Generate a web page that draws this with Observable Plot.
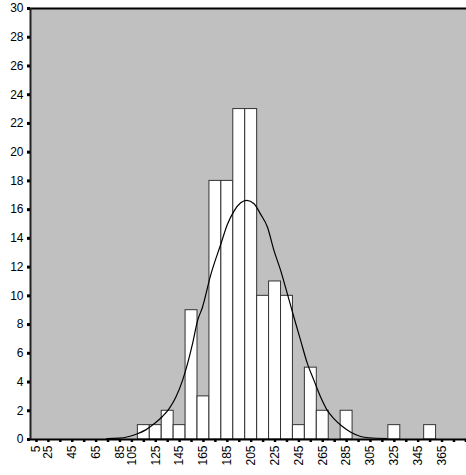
<!DOCTYPE html>
<html><head><meta charset="utf-8">
<script src="https://cdn.jsdelivr.net/npm/d3@7"></script>
<script src="https://cdn.jsdelivr.net/npm/@observablehq/plot@0.6"></script>
<style>html,body{margin:0;padding:0;background:#fff;} svg{display:block;}</style>
</head><body><div id="chart"></div>
<script>
// Category (bin) index along the x axis and the count in each bin
const binIndex = [9, 10, 11, 12, 13, 14, 15, 16, 17, 18, 19, 20, 21, 22, 23, 24, 26, 30, 33];
const binCount = [1, 1, 2, 1, 9, 3, 18, 18, 23, 23, 10, 11, 10, 1, 5, 2, 2, 1, 1];

// Tick labels as printed under the categories
const tickPositions = [0, 1, 3, 5, 7, 8, 10, 12, 14, 16, 18, 20, 22, 24, 26, 28, 30, 32, 34];
const tickLabels = ["5", "25", "45", "65", "85", "105", "125", "145", "165", "185", "205", "225", "245", "265", "285", "305", "325", "345", "365"];
const allTicks = d3.range(0, 37);
const yTicks = [0, 2, 4, 6, 8, 10, 12, 14, 16, 18, 20, 22, 24, 26, 28, 30];

// Fitted curve
const curveX = [5.89, 6.92, 7.76, 8.47, 9.16, 9.86, 10.56, 11.11, 11.68, 12.24, 12.66, 13.08, 13.5, 13.91, 14.61, 15.45, 16.01, 16.56, 17.12, 17.63, 18.24, 18.8, 19.36, 19.92, 20.48, 21.04, 21.59, 22.15, 22.72, 23.27, 23.83, 24.39, 24.95, 25.65, 26.35, 27.18, 27.88, 29.36];
const curveY = [0.07, 0.09, 0.21, 0.4, 0.67, 1.09, 1.6, 2.13, 2.94, 4.1, 5.26, 6.65, 8.26, 9.19, 11.46, 13.59, 14.98, 15.9, 16.48, 16.65, 16.41, 15.67, 14.79, 13.13, 11.74, 10.12, 8.49, 6.88, 5.26, 4.1, 2.94, 2.01, 1.44, 0.9, 0.51, 0.21, 0.12, 0.07];

const bars = binIndex.map((k, i) => ({k, n: binCount[i]}));
const curve = curveX.map((x, i) => ({x, y: curveY[i]}));

const chart = Plot.plot({
  width: 466,
  height: 475,
  marginLeft: 30,
  marginRight: 0,
  marginTop: 8,
  marginBottom: 36,
  style: {fontFamily: "'Liberation Sans', Arial, sans-serif", fontSize: "12px", background: "#fff", color: "#000"},
  x: {type: "linear", domain: [-0.5, 36.05]},
  y: {domain: [0, 30]},
  marks: [
    Plot.frame({fill: "#c0c0c0", stroke: "none"}),
    Plot.rectY(bars, {x1: d => d.k - 0.5, x2: d => d.k + 0.5, y1: 0, y2: "n", fill: "#fff", stroke: "#333", strokeWidth: 1}),
    Plot.line(curve, {x: "x", y: "y", stroke: "#000", strokeWidth: 1.2, curve: "monotone-x"}),
    Plot.ruleY([0], {stroke: "#000", strokeWidth: 2}),
    Plot.ruleY([30], {stroke: "#000", strokeWidth: 2}),
    Plot.ruleX([-0.5], {stroke: "#222", strokeWidth: 2}),
    Plot.axisY({ticks: yTicks, tickSize: 3, tickPadding: 4, strokeWidth: 3, fontSize: 12, label: null}),
    Plot.axisX({ticks: allTicks, tickSize: 3, tickPadding: 3, strokeWidth: 2.5, tickRotate: -90, fontSize: 12, label: null,
      tickFormat: k => { const i = tickPositions.indexOf(k); return i >= 0 ? tickLabels[i] : ""; }})
  ]
});
document.getElementById("chart").appendChild(chart);
</script>
</body></html>
